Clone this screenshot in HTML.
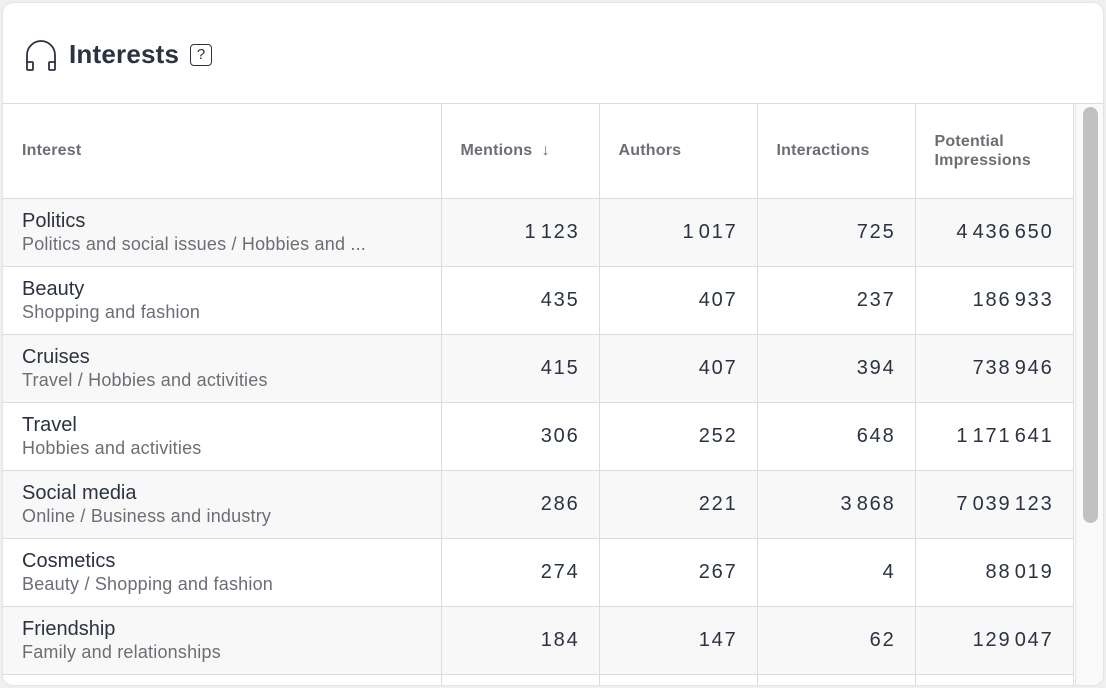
<!DOCTYPE html>
<html><head><style>
body{margin:0;width:1106px;height:688px;background:#f0f0f0;font-family:"Liberation Sans",sans-serif;overflow:hidden;position:relative}
.card{position:absolute;left:3px;top:3px;width:1100px;height:682px;background:#fff;border-radius:10px;overflow:hidden;box-shadow:0 0 2px rgba(0,0,0,.15)}
.hdr{height:100px;border-bottom:1px solid #dcdcdc;position:relative}
.title{position:absolute;left:66px;top:36px;font-size:26px;color:#2b3240;font-weight:bold;letter-spacing:0.2px}
.q{position:absolute;left:187px;top:41px;width:22px;height:22px;border:1.8px solid #2b3240;border-radius:4px;box-sizing:border-box;font-size:15px;text-align:center;line-height:19px;color:#2b3240}
table{position:absolute;left:0;top:101px;border-collapse:collapse;table-layout:fixed}
td,th{border-right:1px solid #dcdcdc;border-bottom:1px solid #dcdcdc;padding:0 19px;box-sizing:border-box}
th{height:94px;text-align:left;font-size:16px;color:#6b6e74;font-weight:bold;vertical-align:middle;background:#fff;letter-spacing:0.2px}
td{height:68px}
tr.g td{background:#f8f8f8}
.n{font-size:20px;color:#2b3240;text-align:right;letter-spacing:1.8px;word-spacing:-4px;padding-right:19px}
.a{font-size:20px;color:#2b3240;line-height:24px}
.b{font-size:18px;color:#6b6e74;line-height:22px;white-space:nowrap;letter-spacing:0.2px}
.sb{position:absolute;left:1072px;top:101px;width:28px;height:581px;background:#fafafa;border-left:1px solid #e6e6e6}
.th{position:absolute;left:7px;top:3px;width:15px;height:416px;background:#c1c1c1;border-radius:8px}
</style></head><body>
<div class="card">
<div class="hdr">
<svg style="position:absolute;left:21px;top:36px" width="34" height="34" viewBox="0 0 34 34" fill="none" stroke="#2b3240" stroke-width="1.8"><path d="M3 24V16a14 14 0 0 1 28 0v8"/><rect x="3" y="23" width="6" height="8" rx="1"/><rect x="25" y="23" width="6" height="8" rx="1"/></svg>
<div class="title">Interests</div><div class="q">?</div>
</div>
<table>
<colgroup><col style="width:438px"><col style="width:158px"><col style="width:158px"><col style="width:158px"><col style="width:158px"></colgroup>
<tr><th>Interest</th><th>Mentions &nbsp;<span style="font-weight:normal">↓</span></th><th>Authors</th><th>Interactions</th><th style="padding-top:0;line-height:19px">Potential<br>Impressions</th></tr>
<tr class="g"><td><div class="a">Politics</div><div class="b">Politics and social issues / Hobbies and ...</div></td><td class="n">1 123</td><td class="n">1 017</td><td class="n">725</td><td class="n">4 436 650</td></tr>
<tr><td><div class="a">Beauty</div><div class="b">Shopping and fashion</div></td><td class="n">435</td><td class="n">407</td><td class="n">237</td><td class="n">186 933</td></tr>
<tr class="g"><td><div class="a">Cruises</div><div class="b">Travel / Hobbies and activities</div></td><td class="n">415</td><td class="n">407</td><td class="n">394</td><td class="n">738 946</td></tr>
<tr><td><div class="a">Travel</div><div class="b">Hobbies and activities</div></td><td class="n">306</td><td class="n">252</td><td class="n">648</td><td class="n">1 171 641</td></tr>
<tr class="g"><td><div class="a">Social media</div><div class="b">Online / Business and industry</div></td><td class="n">286</td><td class="n">221</td><td class="n">3 868</td><td class="n">7 039 123</td></tr>
<tr><td><div class="a">Cosmetics</div><div class="b">Beauty / Shopping and fashion</div></td><td class="n">274</td><td class="n">267</td><td class="n">4</td><td class="n">88 019</td></tr>
<tr class="g"><td><div class="a">Friendship</div><div class="b">Family and relationships</div></td><td class="n">184</td><td class="n">147</td><td class="n">62</td><td class="n">129 047</td></tr>
<tr><td style="height:20px"></td><td style="height:20px"></td><td style="height:20px"></td><td style="height:20px"></td><td style="height:20px"></td></tr>
</table>
<div class="sb"><div class="th"></div></div>
</div>
</body></html>
